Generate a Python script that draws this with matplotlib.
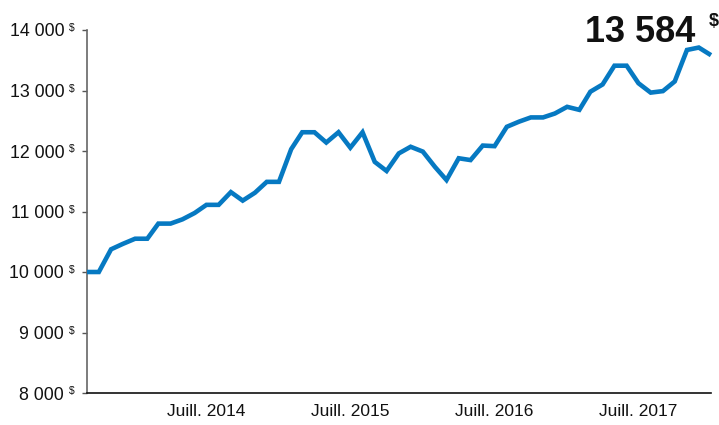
import numpy as np
import matplotlib
matplotlib.use("Agg")
import matplotlib.pyplot as plt
import pandas as pd

plt.rcParams['font.family'] = ['Liberation Sans', 'DejaVu Sans']

# monthly values, sept. 2013 -> janv. 2018
months = pd.date_range('2013-09-01', periods=53, freq='MS')
values = [10000, 10000, 10375, 10465, 10550, 10550, 10800, 10800, 10870, 10975,
          11110, 11110, 11320, 11180, 11310, 11490, 11490, 12030, 12310, 12310,
          12140, 12310, 12055, 12310, 11820, 11670, 11960, 12070, 11990, 11735,
          11520, 11880, 11850, 12090, 12080, 12400, 12485, 12555, 12555, 12620,
          12730, 12680, 12980, 13100, 13410, 13410, 13120, 12965, 12990, 13150,
          13670, 13710, 13584]

y_ticks = [8000, 9000, 10000, 11000, 12000, 13000, 14000]
x_tick_dates = pd.to_datetime(['2014-07-01', '2015-07-01', '2016-07-01', '2017-07-01'])
x_tick_labels = ['Juill. 2014', 'Juill. 2015', 'Juill. 2016', 'Juill. 2017']
final_label = '13 584'

W, H = 719, 425
fig = plt.figure(figsize=(W / 100, H / 100), dpi=100)
ax = fig.add_axes([87 / W, 32 / H, (711 - 87) / W, 363 / H])

ax.plot(months, values, color='#0679c2', lw=3.3, solid_joinstyle='miter',
        solid_capstyle='butt', clip_on=False, zorder=3)

ax.set_xlim(months[0], months[-1])
ax.set_ylim(8000, 14000)

ax.set_yticks(y_ticks)
ax.set_yticklabels([f'{v:,}'.replace(',', ' ') for v in y_ticks], fontsize=12.8, color='#111111')
ax.tick_params(axis='y', length=3.6, width=1, color='#555555', pad=12.8)
for v in y_ticks:
    ax.annotate('$', xy=(0, v), xycoords=('axes fraction', 'data'),
                xytext=(-13.3, 4.8), textcoords='offset points',
                ha='left', va='top', fontsize=7.5, color='#111111')

ax.set_xticks(x_tick_dates)
ax.set_xticklabels(x_tick_labels, fontsize=12.5, color='#111111')
ax.tick_params(axis='x', length=0, pad=8)

for s in ['top', 'right']:
    ax.spines[s].set_visible(False)
ax.spines['left'].set_color('#666666')
ax.spines['left'].set_linewidth(1.2)
ax.spines['bottom'].set_color('#111111')
ax.spines['bottom'].set_linewidth(1.2)

fig.text(695 / W, 1 - 42.5 / H, final_label, ha='right', va='baseline',
         fontsize=26, fontweight='bold', color='#111111')
fig.text(709 / W, 1 - 12.5 / H, '$', ha='left', va='top',
         fontsize=13, fontweight='bold', color='#111111')

fig.savefig('out.png', dpi=100)
